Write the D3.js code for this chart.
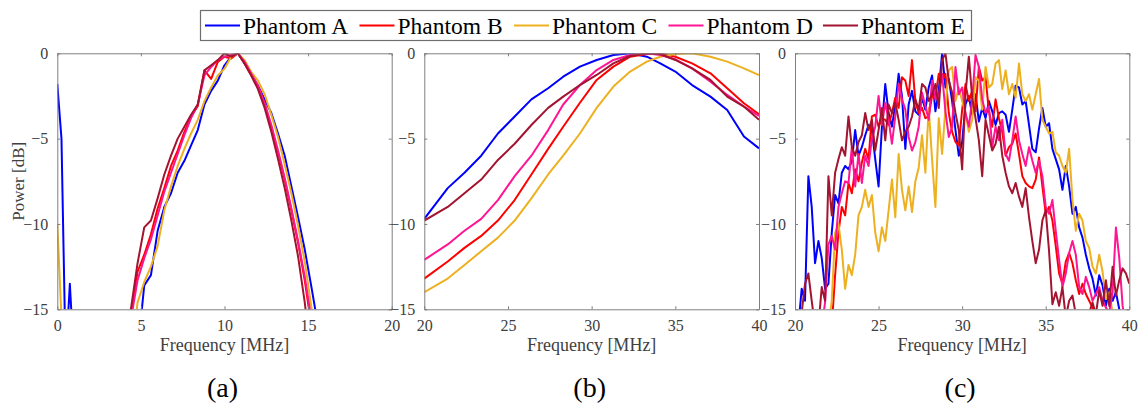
<!DOCTYPE html>
<html>
<head>
<meta charset="utf-8">
<script src="https://cdn.jsdelivr.net/npm/d3@7"></script>
<style>
  body { margin: 0; background: #fff; }
  svg text { font-family: "Liberation Serif", "Times New Roman", Times, "DejaVu Serif", serif; }
</style>
</head>
<body>
<div id="chart"></div>
<script>
const width = 1144, height = 410
const serif = "'Liberation Serif', 'Times New Roman', Times, 'DejaVu Serif', serif"

const seriesNames = ["Phantom A", "Phantom B", "Phantom C", "Phantom D", "Phantom E"]
const seriesColors = ["#0000ff", "#ff0000", "#edb120", "#ff1493", "#a2142f"]
const yTicks = [0, -5, -10, -15]
const panelLabels = ["(a)", "(b)", "(c)"]

// panel (a): 0-20 MHz
const freqA = [0, 0.25, 0.5, 0.75, 1.0, 4.0, 4.4, 4.8, 5.2, 5.6, 6.0, 6.4, 6.8, 7.2, 7.6, 8.0, 8.4, 8.8, 9.2, 9.6, 10.0,
  10.4, 10.8, 11.2, 11.6, 12.0, 12.4, 12.8, 13.2, 13.6, 14.0, 14.4, 14.8, 15.2, 15.6, 16.0]
const a_A = [-1.8, -5, -18, -13.5, -18, -20, -20, -17.5, -13.6, -13, -10.4, -9, -8.2, -7, -6.3, -5.4, -4.5, -3, -2.2, -1.6, -0.7,
  -0.2, 0, -0.6, -1.2, -1.9, -2.7, -3.5, -4.7, -6, -7.8, -9.6, -11.5, -13.7, -16, -18]
const a_B = [-20, -20, -20, -20, -20, -18, -15.3, -12.8, -11.8, -10.6, -9.1, -7.9, -6.6, -5.7, -4.6, -3.7, -3.1, -1.0, -1.5, -0.5, -0.2,
  -0.3, 0, -0.6, -1.3, -2, -3, -4.3, -5.8, -7.4, -9.2, -11.1, -13.3, -16, -20, -20]
const a_C = [-10, -15.5, -20, -20, -20, -20, -18, -14.6, -13.4, -12.5, -11.3, -9.2, -7.8, -6.6, -5.6, -4.7, -3.9, -2.8, -2, -1.3, -0.9,
  -0.2, 0, -0.4, -1.1, -1.6, -2.4, -3.6, -4.9, -6.5, -8.2, -10.1, -12.2, -14.9, -18, -20]
const a_D = [-20, -20, -20, -20, -20, -18, -15.6, -13.3, -12, -10.9, -9.5, -8.1, -7, -5.9, -4.8, -3.8, -3, -1.3, -0.8, -0.4, -0.2,
  -0.1, 0, -0.5, -1.2, -1.9, -2.9, -4.2, -5.7, -7.3, -9.1, -11, -13.1, -15.6, -20, -20]
const a_E = [-20, -20, -20, -20, -20, -18, -15, -12.3, -10.2, -9.8, -8.5, -7.1, -6, -5, -4.3, -3.6, -3, -1, -0.7, -0.4, 0,
  -0.2, 0, -0.6, -1.3, -2.1, -3.2, -4.6, -6.2, -7.9, -9.8, -11.9, -14.6, -18, -20, -20]

// panel (b): 20-40 MHz, smooth
const freqB = [20, 21.4, 22.4, 23.4, 24.4, 25.4, 26.4, 27.4, 28.3, 29.3, 30.3, 31.3, 32.3, 33.3, 34.1, 35, 36, 37.1, 38.1, 39.1, 40]
const b_A = [-9.7, -7.9, -7.0, -6.0, -4.7, -3.7, -2.7, -2.05, -1.37, -0.78, -0.39, -0.1, 0, -0.2, -0.59, -1.07, -1.86, -2.54, -3.32, -4.88, -5.57]
const b_B = [-13.2, -12.2, -11.4, -10.7, -9.8, -8.6, -7.1, -5.6, -4.3, -2.9, -1.56, -0.78, -0.2, -0.04, 0, -0.2, -0.59, -1.17, -2.05, -2.93, -3.57]
const b_C = [-14.0, -13.2, -12.4, -11.6, -10.8, -9.8, -8.5, -7.1, -6.0, -4.7, -3.2, -1.95, -1.07, -0.49, -0.2, -0.04, 0, -0.2, -0.49, -0.88, -1.27]
const b_D = [-12.1, -11.2, -10.4, -9.7, -8.6, -7.2, -6.0, -4.5, -3.0, -1.86, -0.98, -0.39, -0.1, 0, -0.1, -0.35, -0.88, -1.66, -2.44, -3.12, -3.67]
const b_E = [-9.8, -9.0, -8.2, -7.4, -6.25, -5.3, -4.2, -3.2, -2.54, -1.86, -1.27, -0.59, -0.16, 0, -0.04, -0.39, -0.88, -1.56, -2.54, -3.12, -3.9]

// panel (c): 20-40 MHz, 0.2 MHz bins
const freqC = [20, 20.2, 20.4, 20.6, 20.8, 21, 21.2, 21.4, 21.6, 21.8, 22, 22.2, 22.4, 22.6, 22.8, 23, 23.2, 23.4, 23.6, 23.8,
  24, 24.2, 24.4, 24.6, 24.8, 25, 25.2, 25.4, 25.6, 25.8, 26, 26.2, 26.4, 26.6, 26.8, 27, 27.2, 27.4, 27.6, 27.8,
  28, 28.2, 28.4, 28.6, 28.8, 29, 29.2, 29.4, 29.6, 29.8, 30, 30.2, 30.4, 30.6, 30.8, 31, 31.2, 31.4, 31.6, 31.8,
  32, 32.2, 32.4, 32.6, 32.8, 33, 33.2, 33.4, 33.6, 33.8, 34, 34.2, 34.4, 34.6, 34.8, 35, 35.2, 35.4, 35.6, 35.8,
  36, 36.2, 36.4, 36.6, 36.8, 37, 37.2, 37.4, 37.6, 37.8, 38, 38.2, 38.4, 38.6, 38.8, 39, 39.2, 39.4, 39.6, 39.8, 40]
const c_A = [-16, -16, -13.8, -14.5, -7.2, -9, -12.3, -11, -12, -13.8, -13.5, -10.5, -8.3, -8.8, -7, -6.6, -6.8, -6.3, -4.5, -6,
  -5.5, -4.8, -4.2, -4.5, -6.2, -7.8, -4.3, -1.8, -3.5, -4.3, -3, -1.2, -2.5, -5.6, -3, -2.2, -3.4, -3.6, -2.6, -3.3,
  -2, -1.3, -3.4, -2.2, 0, -2, -1.5, -2.8, -4.5, -6, -5.2, -3, -2.5, -3.6, -2.4, -4, -3.2, -3.8, -2.8, -3.4,
  -4.2, -3.5, -3.4, -3.6, -4.6, -3.3, -1.9, -2, -3, -2.8, -4.2, -5.6, -5.8, -4.4, -3.2, -4.3, -4.1, -5.6, -6.2, -6.8,
  -8, -6.6, -7.8, -9.4, -9, -10.2, -10.8, -11.8, -12.6, -13.2, -14.2, -13, -13.6, -14.8, -13.8, -14.5, -14, -15, -16, -16, -16]
const c_B = [-16, -16, -16, -16, -16, -16, -16, -16, -16, -16, -16, -16, -13, -10.5, -9, -9.5, -7.6, -8.2, -6.8, -7.5,
  -6.4, -5.6, -6.2, -3.7, -3.6, -4.3, -3.8, -3.9, -4.2, -3.5, -2.6, -3.2, -1.4, -1.6, -2.5, -0.4, -2.8, -3.5, -3.2, -3.8,
  -3.7, -2.5, -2.6, -1.2, -1.6, -1.2, -3.5, -4.6, -5.2, -5.4, -3.3, -1.8, -2.8, -2.2, -3.4, -0.8, -1.6, -1.4, -3.4, -4.3,
  -2.7, -3.8, -4.6, -6, -5.5, -5.3, -4.7, -5.9, -7.2, -7.6, -7.8, -7.9, -7.4, -6.1, -7.8, -9.4, -9, -9.8, -11.3, -12.9,
  -13.5, -12.2, -11.7, -12.3, -13.3, -14.1, -13.5, -14.1, -14.5, -14.9, -16, -16, -16, -16, -16, -16, -16, -16, -16, -16, -16]
const c_C = [-16, -16, -16, -16, -16, -16, -16, -16, -16, -16, -16, -14.5, -10.5, -10, -11.5, -13.8, -12.4, -13, -11.8, -9.5,
  -9, -8, -9, -8.3, -10.5, -11.6, -10.2, -11, -9.2, -7.4, -9.6, -5.9, -8, -9.2, -7.8, -9.3, -7.5, -6.7, -4.8, -7,
  -3.2, -6.2, -9, -3.8, -5.9, -3.2, -1, -0.8, -2.8, -2, -2.8, -3.5, -4.6, -3.9, -1.4, -1.6, -3.3, -0.8, -2, -1.8,
  -0.6, -0.4, -2.1, -1, -2.4, -1.8, -2.6, -0.6, -2.4, -2.8, -2.4, -3.3, -2.4, -1.5, -3.9, -4.3, -4.7, -4.6, -5.8, -6,
  -6.6, -7, -5.6, -8.6, -10.4, -9.4, -9.8, -11, -11.4, -12.5, -12.9, -11.8, -12.8, -14.4, -14, -15.2, -16, -16, -16, -16, -16]
const c_D = [-16, -16, -16, -16, -16, -16, -16, -16, -16, -14.6, -11.2, -10.7, -11.5, -9, -8.2, -7.5, -7.6, -5.5, -7.8, -5.9,
  -7.6, -6, -6.6, -5, -4.3, -2.5, -4.2, -2.9, -3.9, -5.3, -3.7, -1.8, -2.7, -3.3, -4.9, -5.7, -5.2, -4.3, -2.3, -3.1,
  -3.9, -1.6, -2.7, -2.5, -1.2, -3.4, -4.9, -4.3, -0.8, -2.4, -2, -3.5, -4.3, -2.7, -0.1, -0.8, -2.7, -3.5, -3.1, -5.5,
  -4.3, -5.1, -3.9, -5.9, -6.3, -5.1, -3.7, -5.1, -5.9, -6.6, -5.5, -6.3, -7, -6.3, -7.2, -9, -9.4, -8.6, -10.4, -12.1,
  -13.7, -12.9, -11.7, -11, -11.8, -13.7, -14.1, -13.1, -13.7, -14.5, -14.1, -13.7, -14.5, -14.9, -15.2, -14, -10.2, -12, -14.8, -16, -16]
const c_E = [-16, -16, -15.2, -13.5, -12.9, -14.5, -16, -16, -13.7, -14.5, -7.2, -9.5, -7, -6.2, -5.5, -6, -3.7, -5.5, -6, -5.2,
  -4.8, -3.5, -4.5, -3.9, -5.7, -4.5, -3.2, -5.1, -3, -3.5, -2.9, -3.9, -5.1, -4.6, -4.3, -3.7, -2.7, -3.3, -1.8, -2,
  -2.8, -2.4, -1.8, -3.2, -0.4, 0, -1.6, -2.3, -3.5, -4.5, -6.8, -2.4, -0.2, -2.6, -3.8, -5.1, -7.2, -3.9, -4.8, -5.7,
  -5.3, -4.3, -6, -7, -7.8, -8.2, -7.6, -8.4, -9, -7.9, -9.6, -11, -12.3, -11.5, -9.8, -9.2, -11.6, -14.7, -14, -14.8,
  -13.7, -15.5, -14.5, -14.2, -15.3, -16, -15.5, -16, -15.2, -14.6, -15.3, -13.9, -14.8, -13.3, -14.8, -12.5, -14.2, -13.3, -12.6, -12.9, -13.5]

const panels = [
  { x0: 57.3, x1: 391.7, domain: [0, 20], ticks: [0, 5, 10, 15, 20], freq: freqA, series: [a_A, a_B, a_C, a_D, a_E], ylabel: true },
  { x0: 424.3, x1: 759, domain: [20, 40], ticks: [20, 25, 30, 35, 40], freq: freqB, series: [b_A, b_B, b_C, b_D, b_E] },
  { x0: 795, x1: 1129.3, domain: [20, 40], ticks: [20, 25, 30, 35, 40], freq: freqC, series: [c_A, c_B, c_C, c_D, c_E] }
]
const plotTop = 53.3, plotBottom = 309.3
const axisGray = "#7f7f7f", textGray = "#404040"

const svg = d3.select("#chart").append("svg")
  .attr("width", width)
  .attr("height", height)

const yScale = d3.scaleLinear().domain([-15, 0]).range([plotBottom, plotTop])

panels.forEach(function(p, pi) {
  const xScale = d3.scaleLinear().domain(p.domain).range([p.x0, p.x1])
  const g = svg.append("g")

  g.append("clipPath").attr("id", "clip" + pi)
    .append("rect")
    .attr("x", p.x0).attr("y", plotTop)
    .attr("width", p.x1 - p.x0).attr("height", plotBottom - plotTop)

  const line = d3.line()
    .x(function(d) { return xScale(d[0]) })
    .y(function(d) { return yScale(d[1]) })

  const lines = g.append("g").attr("clip-path", "url(#clip" + pi + ")")
  p.series.forEach(function(vals, si) {
    lines.append("path")
      .datum(p.freq.map(function(f, i) { return [f, vals[i]] }))
      .attr("d", line)
      .attr("fill", "none")
      .attr("stroke", seriesColors[si])
      .attr("stroke-width", 2)
      .attr("stroke-linejoin", "round")
  })

  // axes, ticks pointing inward on all four sides
  const xb = g.append("g").attr("transform", "translate(0," + plotBottom + ")")
    .call(d3.axisBottom(xScale).tickValues(p.ticks).tickSizeInner(-3).tickSizeOuter(0).tickPadding(10))
  const xt = g.append("g").attr("transform", "translate(0," + plotTop + ")")
    .call(d3.axisTop(xScale).tickValues(p.ticks).tickSizeInner(-3).tickSizeOuter(0).tickFormat(""))
  const yl = g.append("g").attr("transform", "translate(" + p.x0 + ",0)")
    .call(d3.axisLeft(yScale).tickValues(yTicks).tickSizeInner(-3).tickSizeOuter(0).tickPadding(9))
  const yr = g.append("g").attr("transform", "translate(" + p.x1 + ",0)")
    .call(d3.axisRight(yScale).tickValues(yTicks).tickSizeInner(-3).tickSizeOuter(0).tickFormat(""))

  ;[xb, xt, yl, yr].forEach(function(ax) {
    ax.attr("font-family", serif)
    ax.select(".domain").attr("stroke", axisGray)
    ax.selectAll(".tick line").attr("stroke", axisGray)
    ax.selectAll(".tick text")
      .attr("fill", textGray)
      .style("font-size", "16px")
  })

  g.append("text")
    .attr("x", (p.x0 + p.x1) / 2)
    .attr("y", 351)
    .attr("text-anchor", "middle")
    .attr("fill", textGray)
    .style("font-size", "18px")
    .text("Frequency [MHz]")

  if (p.ylabel) {
    g.append("text")
      .attr("transform", "translate(24," + ((plotTop + plotBottom) / 2) + ") rotate(-90)")
      .attr("text-anchor", "middle")
      .attr("fill", textGray)
      .style("font-size", "17px")
      .text("Power [dB]")
  }

  g.append("text")
    .attr("x", (p.x0 + p.x1) / 2 - 2)
    .attr("y", 397)
    .attr("text-anchor", "middle")
    .attr("fill", "#000")
    .style("font-size", "28px")
    .text(panelLabels[pi])
})

// legend
const legend = svg.append("g")
legend.append("rect")
  .attr("x", 200.5).attr("y", 10.5)
  .attr("width", 771).attr("height", 30)
  .attr("fill", "#fff")
  .attr("stroke", "#6e6e6e")
  .attr("stroke-width", 1.2)

seriesNames.forEach(function(name, i) {
  const lx = 205 + i * 154.5
  legend.append("line")
    .attr("x1", lx).attr("x2", lx + 35)
    .attr("y1", 25.5).attr("y2", 25.5)
    .attr("stroke", seriesColors[i])
    .attr("stroke-width", 2)
  legend.append("text")
    .attr("x", lx + 38)
    .attr("y", 33.5)
    .attr("fill", "#000")
    .style("font-size", "23.5px")
    .text(name)
})
</script>
</body>
</html>
